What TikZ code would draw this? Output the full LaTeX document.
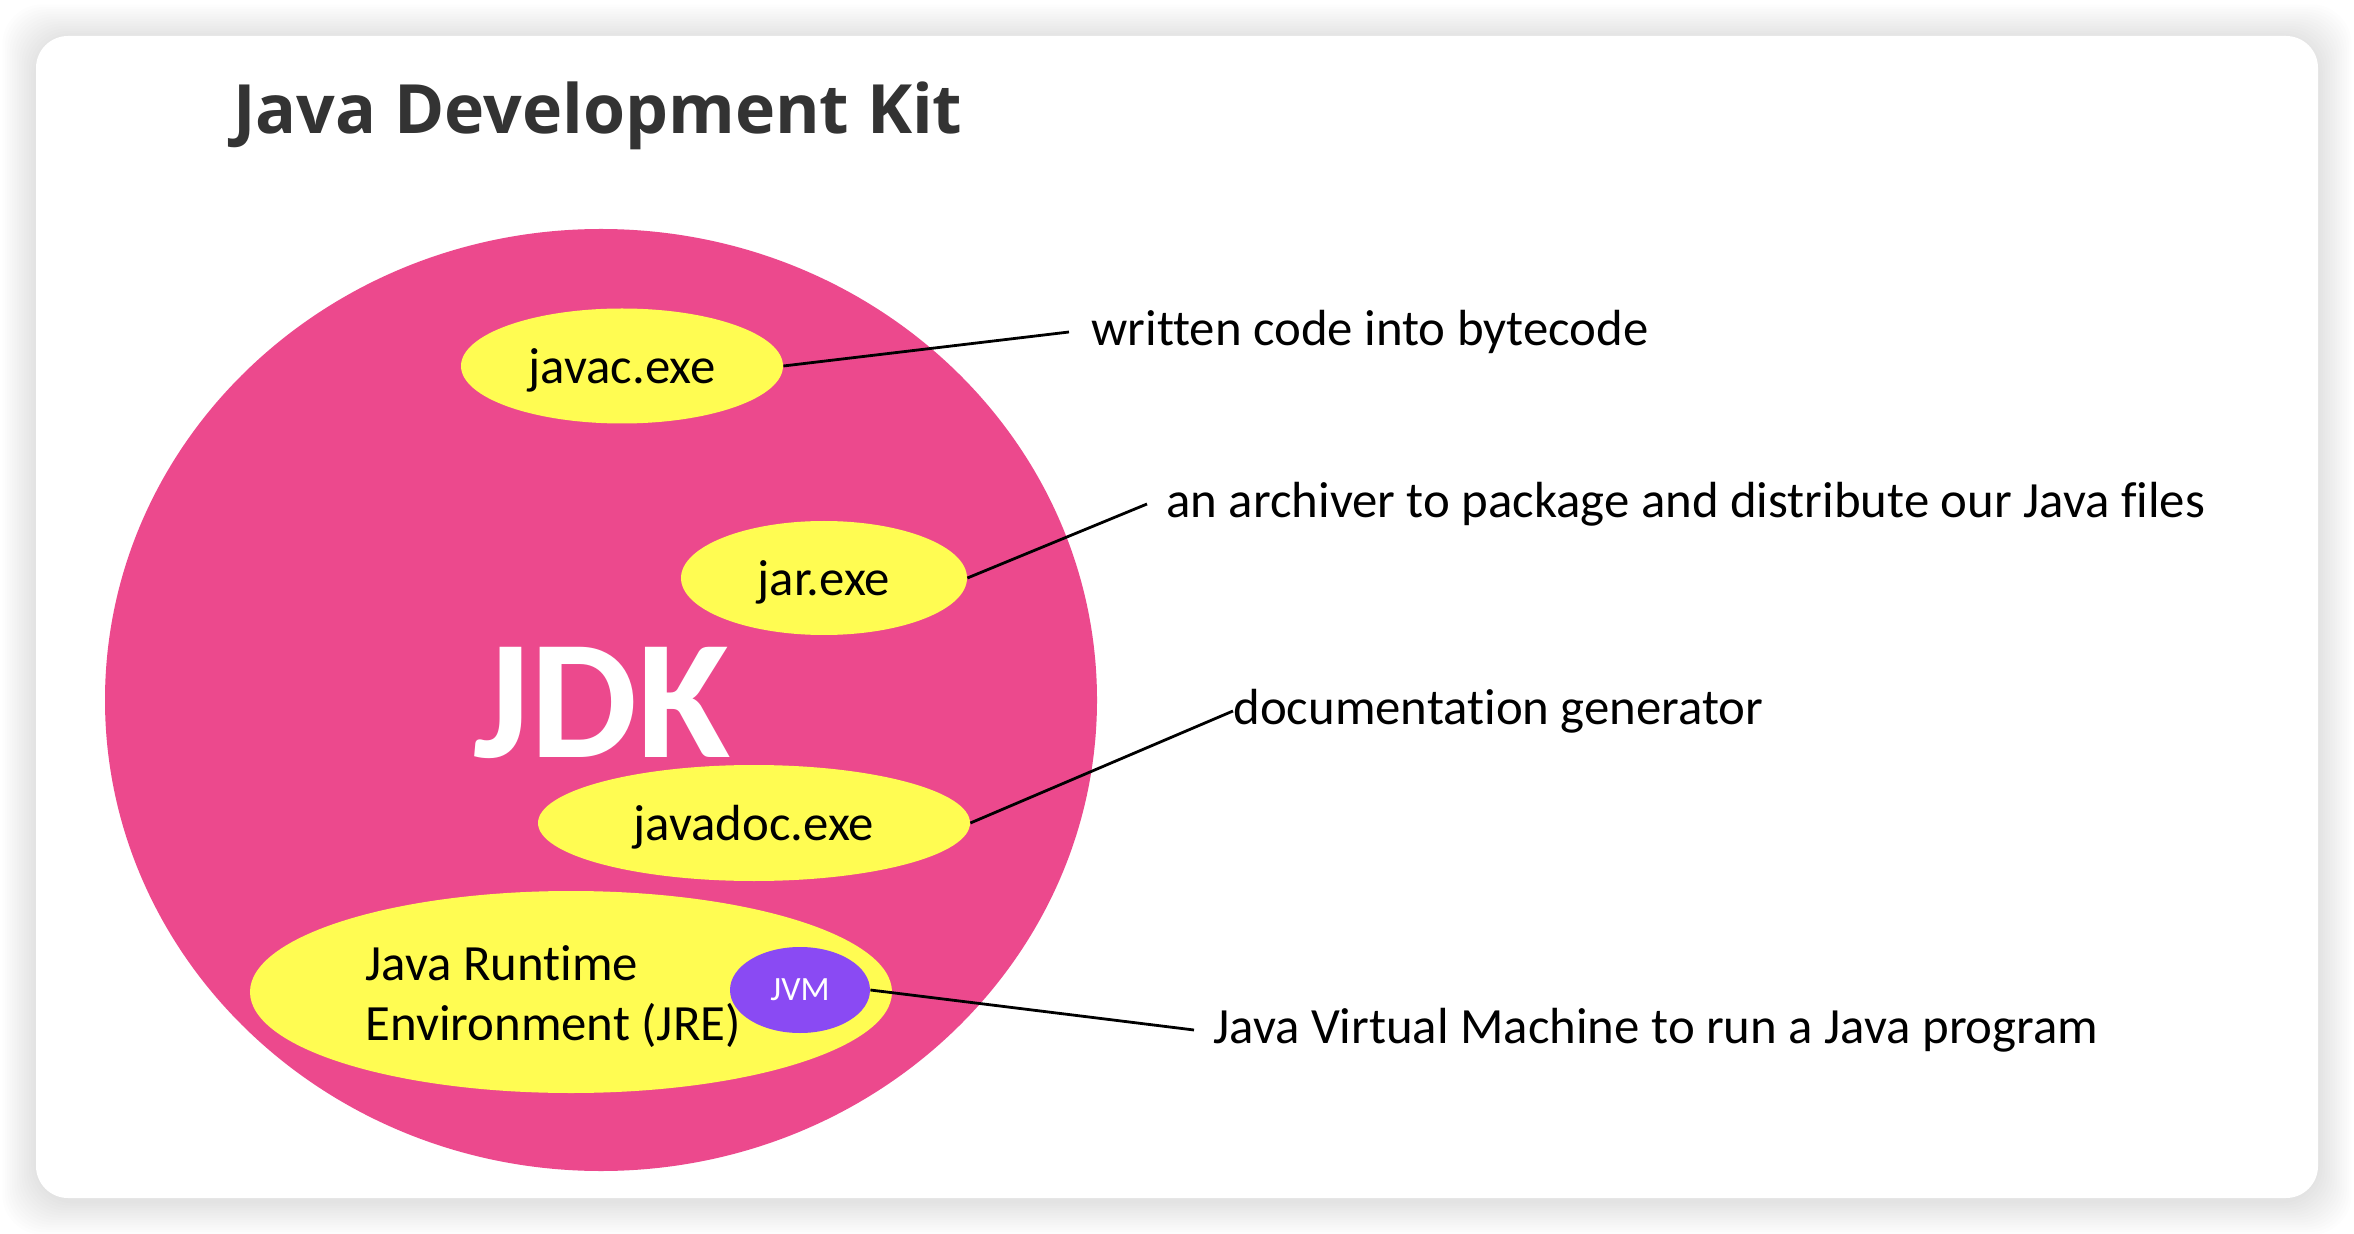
\documentclass[tikz,border=0pt]{standalone}
\usepackage{fontspec}
\setmainfont{Carlito}[Ligatures=NoCommon]
\newfontfamily\headfont{Open Sans}
\usepackage{tikz}
\usetikzlibrary{shapes.geometric}
\definecolor{jdkpink}{RGB}{236,73,141}
\definecolor{toolyellow}{RGB}{255,252,82}
\definecolor{jvmviolet}{RGB}{138,74,243}
\definecolor{headgray}{RGB}{51,51,51}

\begin{document}
\begin{tikzpicture}[x=0.5pt, y=-0.5pt,
  tool/.style={ellipse, fill=toolyellow, inner sep=0pt, text depth=0pt, font=\fontsize{25.4}{30}\selectfont},
  note/.style={anchor=west, inner sep=9.5pt, font=\fontsize{25.4}{30}\selectfont},
  leader/.style={line width=1.4pt, black}]
 \useasboundingbox (0,0) rectangle (2354,1234);
 \fill[white] (0,0) rectangle (2354,1234);
 % soft shadow round the card
 \foreach \s in {1,...,14}
  \fill[black, opacity=0.009, rounded corners=20pt]
   (36-2.4*\s, 38-2.4*\s) rectangle (2318+2.4*\s, 1201+2.4*\s);
 \fill[white, rounded corners=16pt] (36,36) rectangle (2318,1198);

 \node[anchor=base west, inner sep=0pt, text=headgray,
   font=\headfont\bfseries\fontsize{34}{40}\selectfont] (title) at (233,134) {Java Development Kit};

 % JDK and its tools
 \node[ellipse, fill=jdkpink, minimum width=496pt, minimum height=471pt, inner sep=0pt] (jdk) at (601,700) {};
 \node[text=white, font=\bfseries\fontsize{85}{90}\selectfont] (jdklabel) at (602,703) {JDK};
 \node[tool, minimum width=161pt, minimum height=57.5pt] (javac) at (622,366) {javac.exe};
 \node[tool, minimum width=143pt, minimum height=57pt] (jar) at (824,578) {jar.exe};
 \node[tool, minimum width=216pt, minimum height=58pt] (javadoc) at (754,823) {javadoc.exe};
 \node[tool, minimum width=321pt, minimum height=101pt] (jre) at (571,992) {};
 \node[anchor=west, align=left, inner sep=0pt, font=\fontsize{25.4}{30}\selectfont] (jretext) at (365,997)
   {Java Runtime\\Environment (JRE)};
 \node[ellipse, fill=jvmviolet, text=white, inner sep=0pt, minimum width=70pt, minimum height=43pt,
   font=\fontsize{17}{20}\selectfont] (jvm) at (800,990) {JVM};

 % what each tool does
 \node[note, inner sep=11pt] (bytecode) at (1069,332) {written code into bytecode};
 \node[note] (archiver) at (1147,504) {an archiver to package and distribute our Java files};
 \node[note, inner sep=0pt] (docgen) at (1233,711) {documentation generator};
 \node[note] (vmnote) at (1194,1030) {Java Virtual Machine to run a Java program};

 \path[leader]
  (javac.east) edge (bytecode.west)
  (jar.east) edge (archiver.west)
  (javadoc.east) edge (docgen.west)
  (jvm.east) edge (vmnote.west);
\end{tikzpicture}
\end{document}
